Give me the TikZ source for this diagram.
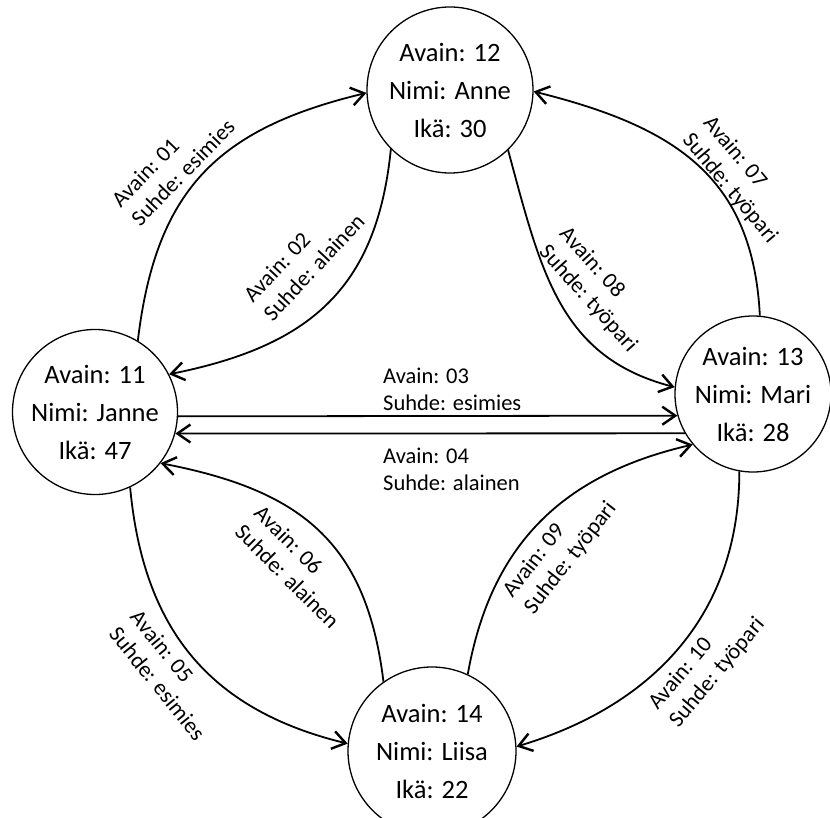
\documentclass[tikz,border=0pt]{standalone}
\usepackage{fontspec}
\setmainfont{Carlito}
\usetikzlibrary{arrows.meta}
\begin{document}
\begin{tikzpicture}[x=1pt,y=-1pt,
  person/.style={circle,draw,line width=1.3pt,inner sep=0pt,align=center,
    font=\fontsize{26.5}{38}\selectfont},
  rel/.style={line width=1.8pt,
    -{Straight Barb[length=13pt,width=18pt,line width=2.4pt]}},
  lbl/.style={align=left,inner sep=0pt,font=\fontsize{22.5}{27}\selectfont}]
\clip (0,0) rectangle (830,818);

% persons
\node[person,minimum size=166pt] (anne)  at (450,90)  {Avain: 12\\Nimi: Anne\\Ikä: 30};
\node[person,minimum size=165pt] (janne) at (95,412)  {Avain: 11\\Nimi: Janne\\Ikä: 47};
\node[person,minimum size=156pt] (mari)  at (753,394) {Avain: 13\\Nimi: Mari\\Ikä: 28};
\node[person,minimum size=168pt] (liisa) at (432,751) {Avain: 14\\Nimi: Liisa\\Ikä: 22};

% relations
\draw[rel] (janne.59)  .. controls +(18,-150) and +(-150,36) .. (anne.182);
\draw[rel] (anne.225)  .. controls +(-14,140) and +(140,-28) .. (janne.27);
\draw[rel] (janne.-3)  -- (mari.196.6);
\draw[rel] (mari.210.85) -- (janne.-15.47);
\draw[rel] (janne.-65) .. controls +(13,140) and +(-140,-34) .. (liisa.175);
\draw[rel] (liisa.125) .. controls +(-17,-140) and +(140,27) .. (janne.-38);
\draw[rel] (mari.85)   .. controls +(-7,-140) and +(140,35) .. (anne.-1);
\draw[rel] (anne.-46)  .. controls +(33,122) and +(-115,-30) .. (mari.175);
\draw[rel] (liisa.65)  .. controls +(23,-130) and +(-130,30) .. (mari.220);
\draw[rel] (mari.260)  .. controls +(0,140) and +(140,-42) .. (liisa.3);

% relation labels
\node[lbl,rotate=46]  (l01) at (173,163) {Avain: 01\\Suhde: esimies};
\node[lbl,rotate=47]  (l02) at (304,258) {Avain: 02\\Suhde: alainen};
\node[lbl,anchor=north west] (l03) at (383,368) {Avain: 03\\Suhde: esimies};
\node[lbl,anchor=north west] (l04) at (383,448) {Avain: 04\\Suhde: alainen};
\node[lbl,rotate=-51] (l05) at (168,675) {Avain: 05\\Suhde: esimies};
\node[lbl,rotate=-45] (l06) at (297,567) {Avain: 06\\Suhde: alainen};
\node[lbl,rotate=-50] (l07) at (740,180) {Avain: 07\\Suhde: työpari};
\node[lbl,rotate=-48] (l08) at (598,290) {Avain: 08\\Suhde: työpari};
\node[lbl,rotate=52]  (l09) at (560,550) {Avain: 09\\Suhde: työpari};
\node[lbl,rotate=50]  (l10) at (707,664) {Avain: 10\\Suhde: työpari};
\end{tikzpicture}
\end{document}
